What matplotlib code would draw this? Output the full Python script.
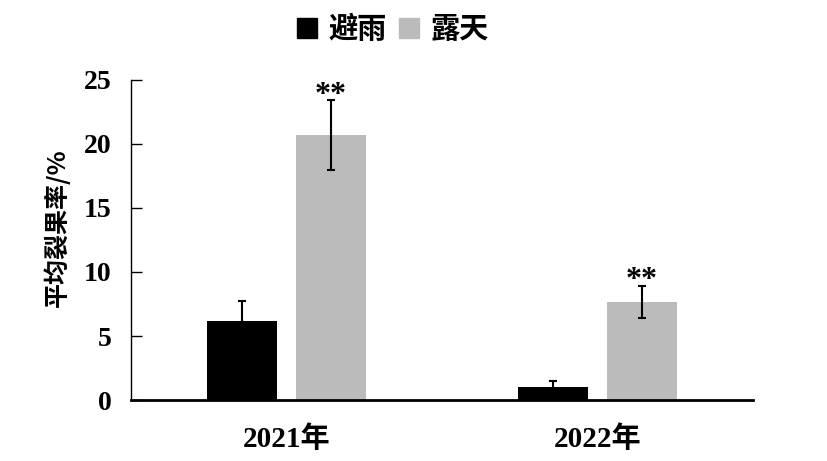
import matplotlib
matplotlib.use("Agg")
import matplotlib.pyplot as plt
import numpy as np
from matplotlib.patches import Rectangle

years = ["2021年", "2022年"]
series_names = ["避雨", "露天"]
rain_shelter = [6.15, 1.05]
rain_shelter_err = [1.55, 0.42]
open_field = [20.7, 7.65]
open_field_err = [2.7, 1.28]
marks = ["**", "**"]
colors = ["#000000", "#bbbbbb"]

serif = ["Liberation Serif", "Noto Sans CJK SC"]
cjk = ["Noto Sans CJK SC", "DejaVu Sans"]

fig = plt.figure(figsize=(8.27, 4.61), dpi=100)
ax = fig.add_axes([0.1584, 0.1323, 0.7521, 0.6942])

x = np.arange(len(years))
w = 0.225
off = 0.143
ax.bar(x - off, rain_shelter, w, color=colors[0], zorder=2)
ax.bar(x + off, open_field, w, color=colors[1], zorder=2)
ekw = dict(fmt="none", ecolor="black", elinewidth=1.5, capsize=3, capthick=1.5, zorder=3)
ax.errorbar(x - off, rain_shelter, yerr=rain_shelter_err, **ekw)
ax.errorbar(x + off, open_field, yerr=open_field_err, **ekw)

for xi, v, e, m in zip(x + off, open_field, open_field_err, marks):
    ax.text(xi, v + e - 0.75, m, ha="center", va="bottom", fontsize=23,
            fontweight="bold", family=serif)

ax.set_xlim(-0.5, 1.5)
ax.set_ylim(0, 25)
ax.set_yticks([0, 5, 10, 15, 20, 25])
ax.set_xticks(x)
ax.set_xticklabels(years)

for s in ["top", "right"]:
    ax.spines[s].set_visible(False)
ax.spines["left"].set_linewidth(1.0)
ax.spines["bottom"].set_linewidth(2.0)
ax.tick_params(axis="y", direction="in", length=8, width=1.0, pad=14)
ax.tick_params(axis="x", length=0, pad=18)
for lab in ax.get_yticklabels():
    lab.set_family(serif)
    lab.set_fontweight("bold")
    lab.set_fontsize(20)
for lab in ax.get_xticklabels():
    lab.set_family(serif)
    lab.set_fontweight("bold")
    lab.set_fontsize(21)

ax.set_ylabel("平均裂果率/%", family=cjk, fontsize=18, fontweight="bold")
ax.yaxis.set_label_coords(-0.098, 0.54)

handles = [Rectangle((0, 0), 1, 1, color=c) for c in colors]
fig.legend(handles, series_names, loc="center", bbox_to_anchor=(0.475, 0.937), ncol=2,
           frameon=False, prop=dict(family=cjk, size=21, weight="bold"),
           handlelength=0.7, handleheight=0.7, handletextpad=0.4, columnspacing=0.4)

fig.savefig("out.png", dpi=100)
